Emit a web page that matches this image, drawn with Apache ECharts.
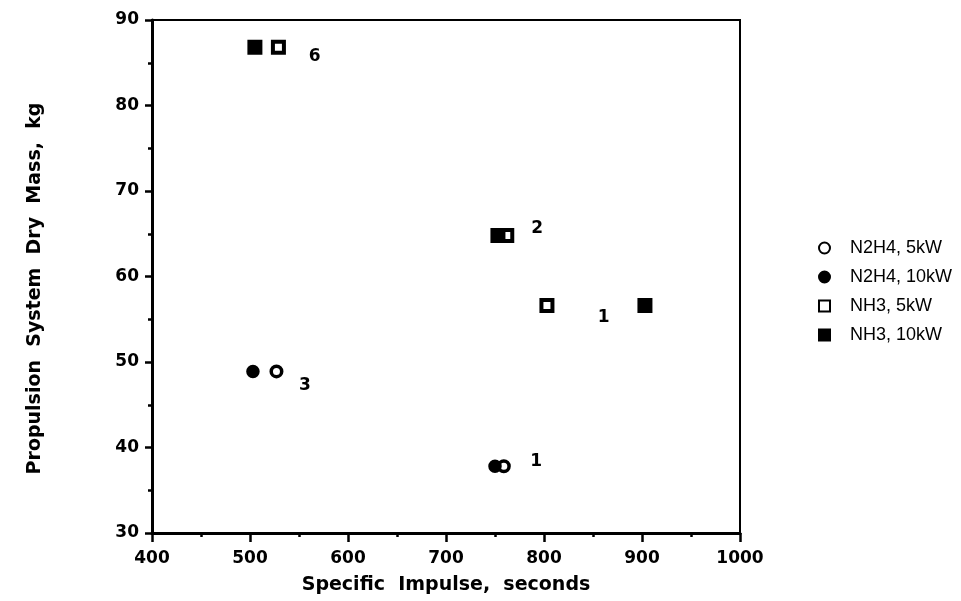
<!DOCTYPE html>
<html>
<head>
<meta charset="utf-8">
<script src="https://cdn.jsdelivr.net/npm/echarts@6/dist/echarts.min.js"></script>
<style>
  html, body { margin: 0; padding: 0; background: #fff; }
  #main { width: 961px; height: 601px; }
</style>
</head>
<body>
<div id="main"></div>
<script>
// [specific impulse (s), dry mass (kg)]
const n2h4_5kw = [[527, 48.9], [759, 37.8]];
const n2h4_10kw = [[503, 48.9], [750, 37.8]];
const nh3_5kw = [[529, 86.8], [762, 64.8], [803, 56.6]];
const nh3_10kw = [[505, 86.8], [753, 64.8], [903, 56.6]];

// point annotations
const noteText = ["6", "2", "1", "3", "1"];
const notePos = [[566, 85.7], [793, 65.6], [861, 55.2], [556, 47.2], [792, 38.3]];

const xTicks = [400, 500, 600, 700, 800, 900, 1000];
const yTicks = [30, 40, 50, 60, 70, 80, 90];

const boldFont = "DejaVu Sans, Verdana, sans-serif";
const plainFont = "Liberation Sans, Arial, Helvetica, sans-serif";
const chart = echarts.init(document.getElementById("main"));

const openStyle = { color: "#fff", borderColor: "#000", borderWidth: 4, opacity: 1 };
const fillStyle = { color: "#000", borderColor: "#000", borderWidth: 4, opacity: 1 };
const openRound = { color: "#fff", borderColor: "#000", borderWidth: 3.5, opacity: 1 };
const fillRound = { color: "#000", borderColor: "#000", borderWidth: 3.5, opacity: 1 };

const tickLabel = { fontFamily: boldFont, fontSize: 17, fontWeight: "bold", color: "#000" };
const axisTitle = { fontFamily: boldFont, fontSize: 19, fontWeight: "bold", color: "#000" };

const option = {
  animation: false,
  backgroundColor: "#fff",
  grid: {
    left: 152, right: 221, top: 20, bottom: 68,
    show: true, borderColor: "#000", borderWidth: 2,
  },
  legend: {
    orient: "vertical",
    left: 813,
    top: 234,
    itemGap: 11,
    itemWidth: 11,
    itemHeight: 11,
    textStyle: {
      fontFamily: plainFont, fontSize: 18, lineHeight: 18, color: "#000",
      padding: [0, 0, 0, 15],
    },
    data: [
      { name: "N2H4, 5kW", icon: "circle" },
      { name: "N2H4, 10kW", icon: "circle" },
      { name: "NH3, 5kW", icon: "rect" },
      { name: "NH3, 10kW", icon: "rect" },
    ],
  },
  xAxis: {
    type: "value",
    min: xTicks[0],
    max: xTicks[xTicks.length - 1],
    interval: 100,
    name: "Specific  Impulse,  seconds",
    nameLocation: "middle",
    nameGap: 43,
    nameTextStyle: axisTitle,
    axisLine: { show: true, onZero: false, lineStyle: { color: "#000", width: 3 } },
    axisTick: { show: true, length: 9, lineStyle: { color: "#000", width: 2.5 } },
    minorTick: { show: true, splitNumber: 2, length: 4, lineStyle: { color: "#000", width: 2.5 } },
    axisLabel: Object.assign({ margin: 17, formatter: (v) => String(v) }, tickLabel),
    splitLine: { show: false },
  },
  yAxis: {
    type: "value",
    min: yTicks[0],
    max: yTicks[yTicks.length - 1],
    interval: 10,
    name: "Propulsion  System  Dry  Mass,  kg",
    nameLocation: "middle",
    nameGap: 107,
    nameTextStyle: Object.assign({ padding: [0, 24, 0, 0] }, axisTitle),
    axisLine: { show: true, onZero: false, lineStyle: { color: "#000", width: 3 } },
    axisTick: { show: true, length: 7, lineStyle: { color: "#000", width: 2.5 } },
    minorTick: { show: true, splitNumber: 2, length: 4, lineStyle: { color: "#000", width: 2.5 } },
    axisLabel: Object.assign({ margin: 13 }, tickLabel),
    splitLine: { show: false },
  },
  series: [
    { name: "N2H4, 5kW", type: "scatter", symbol: "circle", symbolSize: 10.5, z: 2, itemStyle: openRound, data: n2h4_5kw },
    { name: "N2H4, 10kW", type: "scatter", symbol: "circle", symbolSize: 10, z: 3, itemStyle: fillRound, data: n2h4_10kw },
    { name: "NH3, 5kW", type: "scatter", symbol: "rect", symbolSize: 11, z: 2, itemStyle: openStyle, data: nh3_5kw },
    { name: "NH3, 10kW", type: "scatter", symbol: "rect", symbolSize: 11, z: 3, itemStyle: fillStyle, data: nh3_10kw },
    {
      name: "notes",
      type: "scatter",
      symbolSize: 0,
      silent: true,
      itemStyle: { opacity: 1 },
      label: {
        show: true,
        position: "inside",
        fontFamily: boldFont,
        fontSize: 17,
        fontWeight: "bold",
        color: "#000",
        formatter: (p) => noteText[p.dataIndex],
      },
      data: notePos,
    },
  ],
};

chart.setOption(option);
</script>
</body>
</html>
